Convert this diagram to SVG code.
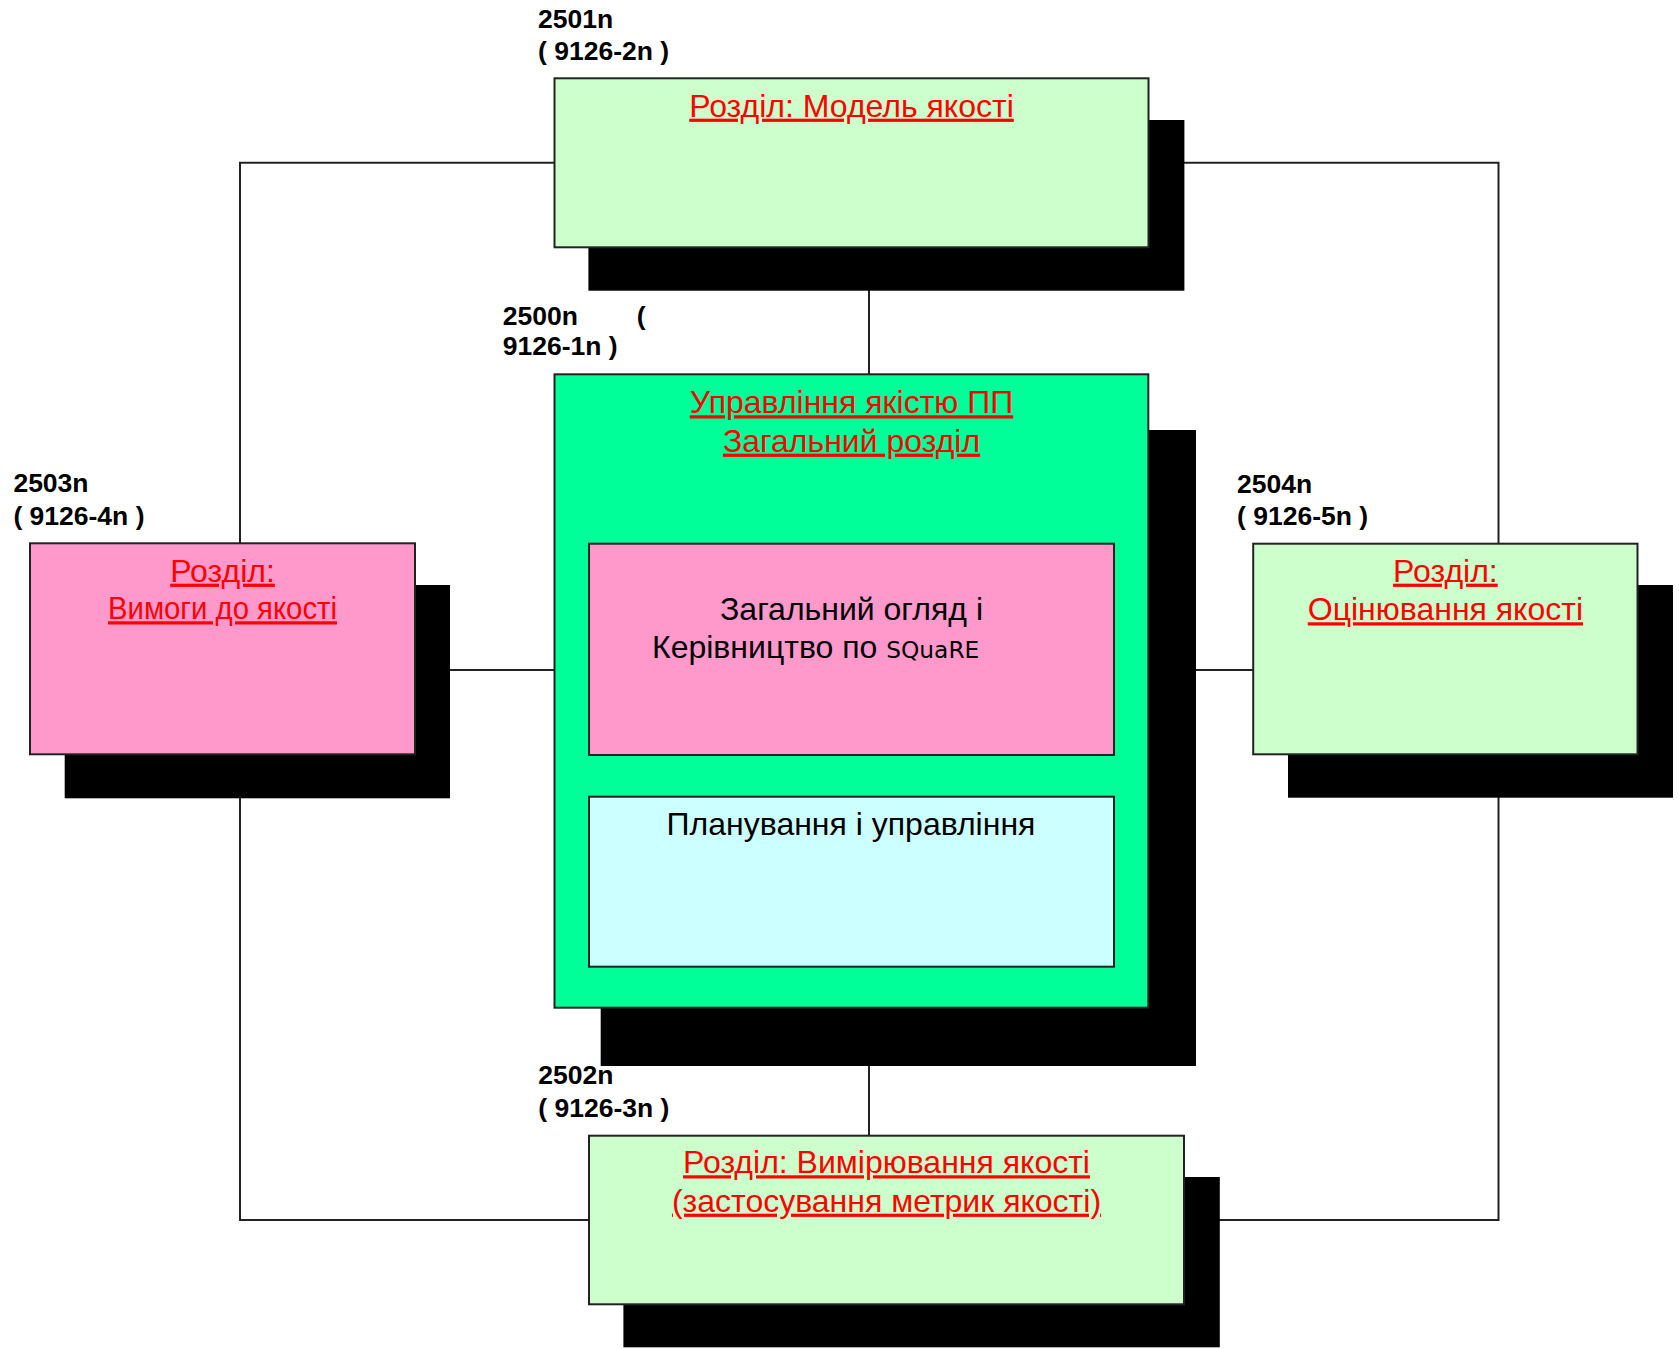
<svg xmlns="http://www.w3.org/2000/svg" width="1679" height="1349" viewBox="0 0 1679 1349">
  <style>
    .bg { fill: #ffffff; }
    .shadow { fill: #000000; }
    .box { stroke: #222222; stroke-width: 2; }
    .light { fill: #CCFFCC; }
    .main { fill: #00FF99; }
    .pink { fill: #FF99CC; }
    .cyan { fill: #CCFFFF; }
    .title { font-family: "Liberation Sans", Arial, sans-serif; font-size: 32px; fill: #FF0000; text-decoration: underline; text-anchor: middle; }
    .body { font-family: "Liberation Sans", Arial, sans-serif; font-size: 32px; fill: #000000; }
    .code { font-family: "Liberation Sans", Arial, sans-serif; font-size: 26.5px; font-weight: bold; fill: #000000; }
    .sq { font-family: "DejaVu Sans", Verdana, sans-serif; font-size: 23.3px; }
    .wire { fill: none; stroke: #222222; stroke-width: 2; }
  </style>

  <rect class="bg" x="0" y="0" width="1679" height="1349"/>

  <!-- connectors (drawn first, boxes sit on top) -->
  <g id="connectors">
    <polyline class="wire" points="554.5,162.7 240,162.7 240,1220 589,1220"/>
    <polyline class="wire" points="1148.5,162.7 1498.5,162.7 1498.5,1220 1184,1220"/>
    <line class="wire" x1="415" y1="670" x2="554.5" y2="670"/>
    <line class="wire" x1="1148.5" y1="670" x2="1253.2" y2="670"/>
    <line class="wire" x1="869" y1="247" x2="869" y2="374.3"/>
    <line class="wire" x1="869" y1="1007.7" x2="869" y2="1135.7"/>
  </g>

  <!-- 2501n: quality model -->
  <g id="node-2501">
    <rect class="shadow" x="588.4" y="120" width="596" height="170.7"/>
    <rect class="box light" x="554.5" y="78.3" width="594" height="169"/>
    <text class="title" x="851.5" y="116.7">Розділ: Модель якості</text>
    <text class="code" x="538" y="28.3">2501n</text>
    <text class="code" x="538" y="60" xml:space="preserve">( 9126-2n )</text>
  </g>

  <!-- 2500n: general / management -->
  <g id="node-2500">
    <rect class="shadow" x="600.7" y="430" width="595.3" height="636"/>
    <rect class="box main" x="554.5" y="374.3" width="593.8" height="633.4"/>
    <text class="title" x="851.5" y="413.3">Управління якістю ПП</text>
    <text class="title" x="851.5" y="451.7">Загальний розділ</text>
    <text class="code" x="502.7" y="325">2500n<tspan x="636.7">(</tspan></text>
    <text class="code" x="502.7" y="355">9126-1n )</text>
  </g>

  <g id="node-overview">
    <rect class="box pink" x="589" y="543.7" width="525" height="211.3"/>
    <text class="body" x="720" y="620">Загальний огляд і</text>
    <text class="body" x="652" y="658.3">Керівництво по <tspan class="sq">SQuaRE</tspan></text>
  </g>

  <g id="node-planning">
    <rect class="box cyan" x="589" y="796.7" width="525" height="170"/>
    <text class="body" x="851" y="835" text-anchor="middle">Планування і управління</text>
  </g>

  <!-- 2503n: requirements -->
  <g id="node-2503">
    <rect class="shadow" x="64.7" y="585" width="385.3" height="213.3"/>
    <rect class="box pink" x="30" y="543.3" width="385" height="211"/>
    <text class="title" x="222.5" y="581.7">Розділ:</text>
    <text class="title" x="222.5" y="619.3" textLength="229" lengthAdjust="spacingAndGlyphs">Вимоги до якості</text>
    <text class="code" x="13.4" y="491.7">2503n</text>
    <text class="code" x="13.4" y="525" xml:space="preserve">( 9126-4n )</text>
  </g>

  <!-- 2504n: evaluation -->
  <g id="node-2504">
    <rect class="shadow" x="1288" y="585" width="385" height="212.7"/>
    <rect class="box light" x="1253.2" y="543.7" width="384.3" height="210.6"/>
    <text class="title" x="1445.4" y="581.7">Розділ:</text>
    <text class="title" x="1445.4" y="620.3">Оцінювання якості</text>
    <text class="code" x="1237" y="492.7">2504n</text>
    <text class="code" x="1237" y="525" xml:space="preserve">( 9126-5n )</text>
  </g>

  <!-- 2502n: measurement -->
  <g id="node-2502">
    <rect class="shadow" x="623.4" y="1177" width="596.4" height="170.3"/>
    <rect class="box light" x="589" y="1135.7" width="595" height="168.6"/>
    <text class="title" x="886.5" y="1173.3">Розділ: Вимірювання якості</text>
    <text class="title" x="886.5" y="1211.7">(застосування метрик якості)</text>
    <text class="code" x="538.3" y="1084.3">2502n</text>
    <text class="code" x="538.3" y="1116.7" xml:space="preserve">( 9126-3n )</text>
  </g>
</svg>
